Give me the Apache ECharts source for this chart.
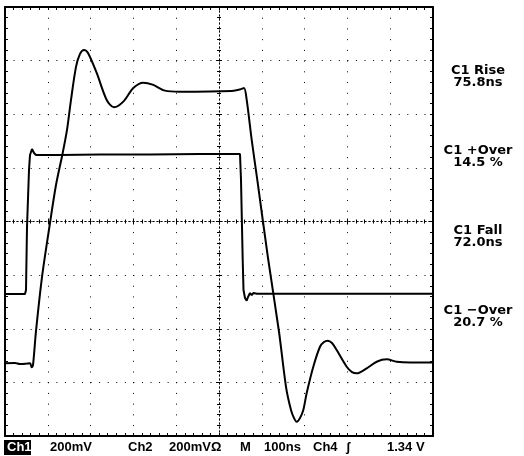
<!DOCTYPE html>
<html>
<head>
<meta charset="utf-8">
<script src="https://cdn.jsdelivr.net/npm/echarts@6/dist/echarts.min.js"></script>
<style>
  html, body { margin: 0; padding: 0; background: #fff; }
  #scope { width: 524px; height: 456px; }
</style>
</head>
<body>
<div id="scope"></div>
<script>
// time in ns (100ns/div), level in divisions (200mV/div)
const ch1Time = [0, 15, 20, 30, 31.7, 33, 36, 42, 50, 56, 62.7, 67, 71, 76, 80, 84, 88, 96.7, 106.7, 114, 123.3,
  133.3, 143.3, 153.3, 165, 180, 232, 240, 244, 246.7, 251.7, 257.3, 268.3, 279, 286, 291, 294, 296.7, 300,
  303.3, 306.7, 313.3, 320, 324, 327.7, 332, 336.7, 346.7, 352, 356.7, 366.7, 376.7, 386.7, 396.7, 410, 433]
  .map(x => (x - 5) / 0.428)
const ch1Level = [363.3, 363, 364, 363.3, 367.3, 365, 331, 277, 223, 185, 153, 130, 100, 67, 54, 50, 53, 73, 100, 107.3, 101.7,
  88, 82.7, 85, 90.7, 91.7, 91, 89.5, 88, 100, 140, 180, 260, 331.7, 386.7, 410, 418, 421.7, 418,
  410, 393, 366.7, 346.7, 342, 340.7, 343, 350, 366.7, 372, 373.3, 368.3, 361.7, 359.3, 361.7, 362.5, 362.5]
  .map(y => (221.5 - y) / 53.6)

const ch2Time = [0, 25, 26, 27, 29, 30, 32, 34, 36, 60, 100, 150, 200, 240, 241, 242.7, 243.5, 245, 246.7, 248,
  250, 251.7, 253.3, 255, 257, 433].map(x => (x - 5) / 0.428)
const ch2Level = [294, 294, 290, 227, 170, 155, 149, 153, 155, 155, 154.5, 154.5, 154, 154, 180, 260, 290, 298, 300.7, 297,
  293, 295, 293, 294, 293.7, 293.7].map(y => (221.5 - y) / 53.6)

const readouts = [['C1 Rise', '75.8ns'], ['C1 +Over', '14.5 %'], ['C1 Fall', '72.0ns'], ['C1 \u2212Over', '20.7 %']]
const statusItems = [['200mV', 50], ['Ch2', 128], ['200mV\u03A9', 169], ['M', 240], ['100ns', 264], ['Ch4', 313], ['\u0283', 346], ['1.34 V', 387]]

const chart = echarts.init(document.getElementById('scope'))
const pair = (t, v) => t.map((x, i) => [x, v[i]])

const frame = { show: true, onZero: false, lineStyle: { color: '#000', width: 2 } }
const innerTick = { show: true, inside: true, length: 3, lineStyle: { color: '#000' } }
const innerMinor = { show: true, splitNumber: 5, length: 3, lineStyle: { color: '#000' } }
const crossLine = { show: true, onZero: true, lineStyle: { color: '#000', width: 1, type: [1, 3] } }
const crossTick = { show: true, inside: false, length: 3, lineStyle: { color: '#000' } }
const crossMinor = { show: true, splitNumber: 5, length: 2, lineStyle: { color: '#000' } }

const gridBox = { left: 5, top: 7, width: 428, height: 429 }

const option = {
  backgroundColor: '#fff',
  animation: false,
  grid: [gridBox, gridBox],
  xAxis: [
    { gridIndex: 0, type: 'value', min: 0, max: 1000, interval: 100, position: 'bottom',
      axisLine: frame, axisTick: innerTick, minorTick: innerMinor, axisLabel: { show: false },
      splitLine: { show: true, lineStyle: { color: '#000', width: 1, type: [1, 9.72] } } },
    { gridIndex: 0, type: 'value', min: 0, max: 1000, interval: 100, position: 'top',
      axisLine: frame, axisTick: innerTick, minorTick: innerMinor, axisLabel: { show: false }, splitLine: { show: false } },
    { gridIndex: 1, type: 'value', min: -500, max: 500, interval: 100, position: 'bottom',
      axisLine: crossLine, axisTick: crossTick, minorTick: crossMinor, axisLabel: { show: false }, splitLine: { show: false } },
    { gridIndex: 1, type: 'value', min: -500, max: 500, interval: 100, position: 'top',
      axisLine: crossLine, axisTick: crossTick, minorTick: crossMinor, axisLabel: { show: false }, splitLine: { show: false } }
  ],
  yAxis: [
    { gridIndex: 0, type: 'value', min: -4, max: 4, interval: 1, position: 'left',
      axisLine: frame, axisTick: innerTick, minorTick: innerMinor, axisLabel: { show: false },
      splitLine: { show: true, lineStyle: { color: '#000', width: 1, type: [1, 7.56] } } },
    { gridIndex: 0, type: 'value', min: -4, max: 4, interval: 1, position: 'right',
      axisLine: frame, axisTick: innerTick, minorTick: innerMinor, axisLabel: { show: false }, splitLine: { show: false } },
    { gridIndex: 1, type: 'value', min: -4, max: 4, interval: 1, position: 'left',
      axisLine: crossLine, axisTick: crossTick, minorTick: crossMinor, axisLabel: { show: false }, splitLine: { show: false } },
    { gridIndex: 1, type: 'value', min: -4, max: 4, interval: 1, position: 'right',
      axisLine: crossLine, axisTick: crossTick, minorTick: crossMinor, axisLabel: { show: false }, splitLine: { show: false } }
  ],
  series: [
    { name: 'Ch1', type: 'line', xAxisIndex: 0, yAxisIndex: 0, data: pair(ch1Time, ch1Level),
      showSymbol: false, smooth: 0.3, lineStyle: { color: '#000', width: 2 } },
    { name: 'Ch2', type: 'line', xAxisIndex: 0, yAxisIndex: 0, data: pair(ch2Time, ch2Level),
      showSymbol: false, lineStyle: { color: '#000', width: 2 } }
  ],
  graphic: [
    ...readouts.map((r, i) => ({
      type: 'text', x: 478, y: 65 + i * 80,
      style: { text: r[0] + '\n' + r[1], align: 'center', lineHeight: 12,
        font: 'bold 13px "DejaVu Sans"', fill: '#000' }
    })),
    { type: 'rect', shape: { x: 4, y: 440, width: 27, height: 15 }, style: { fill: '#000' } },
    { type: 'text', x: 7, y: 441, style: { text: 'Ch1', font: 'bold 13px "Liberation Sans"', fill: '#fff' } },
    ...statusItems.map(s => ({
      type: 'text', x: s[1], y: 441,
      style: { text: s[0], font: 'bold 13px "Liberation Sans"', fill: '#000' }
    }))
  ]
}
chart.setOption(option)
</script>
</body>
</html>
